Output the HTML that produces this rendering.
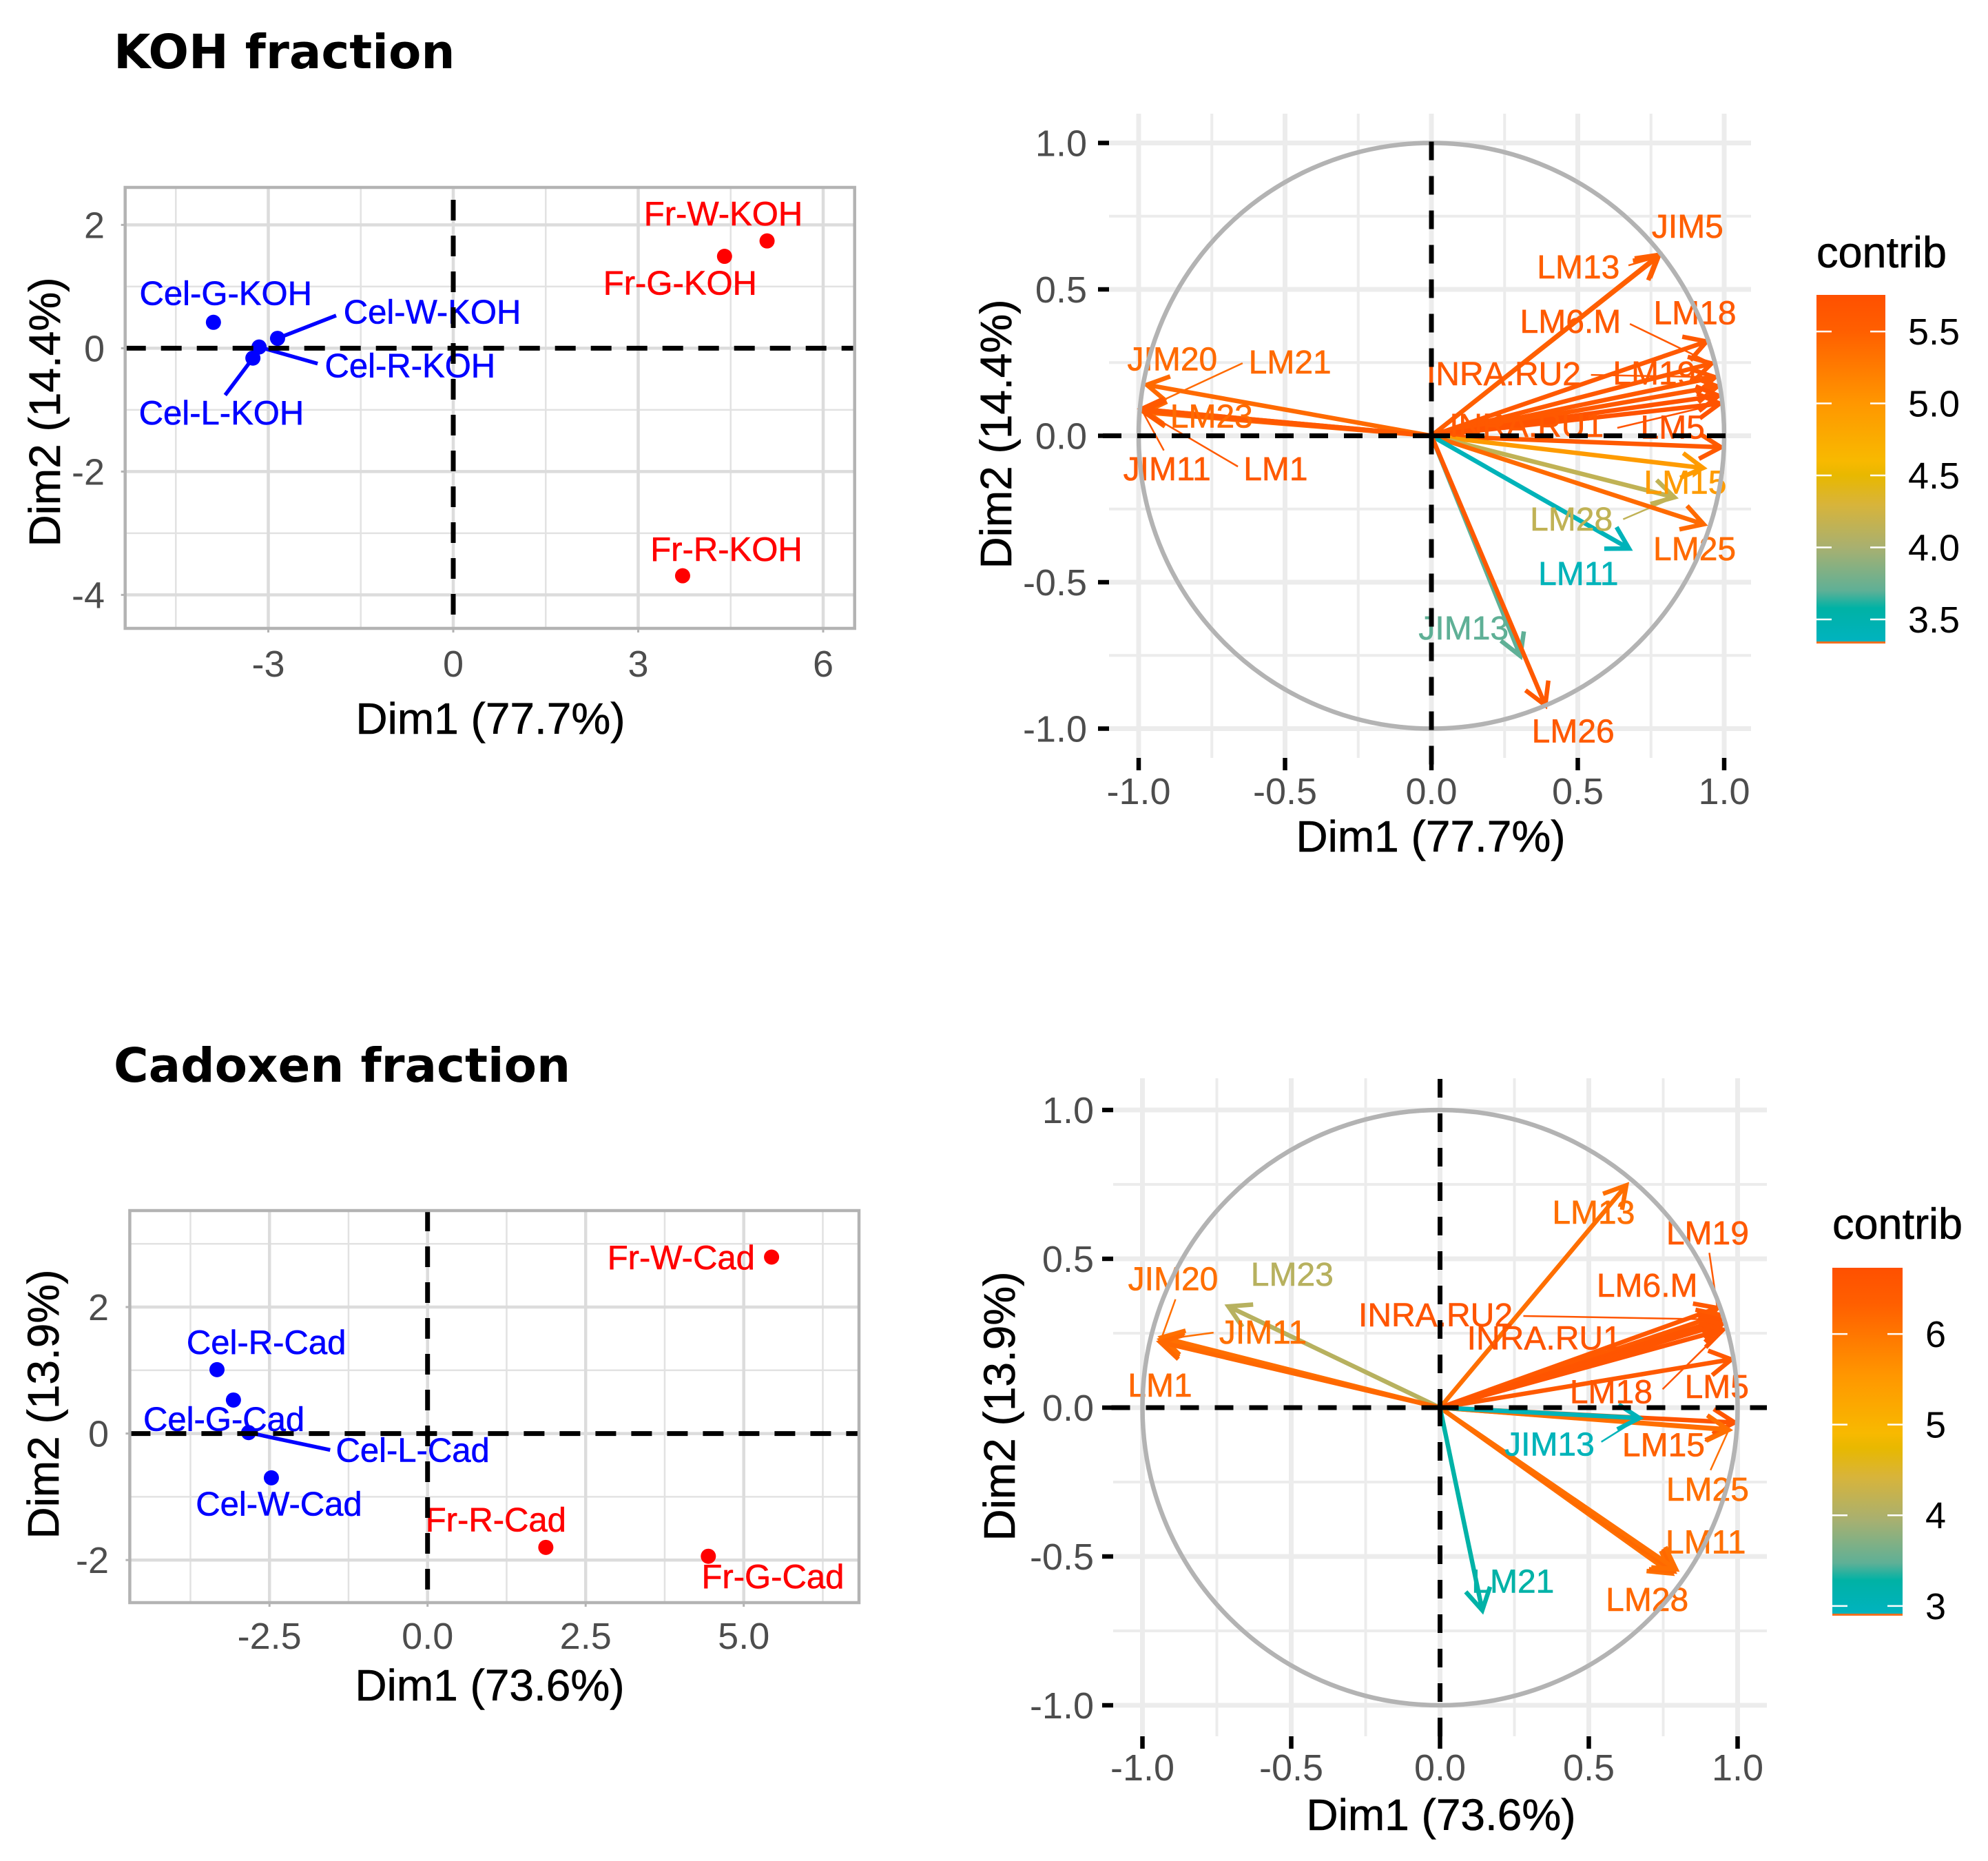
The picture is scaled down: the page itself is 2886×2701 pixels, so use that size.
<!DOCTYPE html>
<html>
<head>
<meta charset="utf-8">
<title>PCA of KOH and Cadoxen fractions</title>
<style>
html,body{margin:0;padding:0;background:#fff;}
svg{display:block;}
text{font-family:"Liberation Sans",sans-serif;}
.title{font-family:"DejaVu Sans","Liberation Sans",sans-serif;font-weight:bold;font-size:69px;fill:#000;}
</style>
</head>
<body>
<svg id="figure" xmlns="http://www.w3.org/2000/svg" width="2886" height="2701" viewBox="0 0 2886 2701">
<defs>
<linearGradient id="contrib-gradient" x1="0" y1="1" x2="0" y2="0">
<stop offset="0" stop-color="#00b3c0"/><stop offset="0.1" stop-color="#00b2a5"/><stop offset="0.15" stop-color="#5fb096"/><stop offset="0.274" stop-color="#a8b070"/><stop offset="0.398" stop-color="#d8b43a"/><stop offset="0.481" stop-color="#e8b800"/><stop offset="0.523" stop-color="#f8b900"/><stop offset="0.688" stop-color="#ff9700"/><stop offset="0.895" stop-color="#ff5f00"/><stop offset="1" stop-color="#ff5000"/>
</linearGradient>
</defs>
<text class="title" x="165" y="99">KOH fraction</text>
<text class="title" x="165" y="1570">Cadoxen fraction</text>
</svg>
<script>
// ---------- KOH individuals ----------
const kohIndNames = ['Fr-W-KOH','Fr-G-KOH','Fr-R-KOH','Cel-G-KOH','Cel-W-KOH','Cel-R-KOH','Cel-L-KOH'];
const kohIndX = [5.09,4.40,3.72,-3.89,-2.85,-3.15,-3.25];
const kohIndY = [1.74,1.49,-3.69,0.42,0.16,0.02,-0.16];
const kohIndLabelX = [4.38,3.68,4.43,-3.69,-0.34,-0.70,-3.76];
const kohIndLabelY = [2.16,1.04,-3.28,0.87,0.57,-0.30,-1.07];
const kohIndLeaderX = [null,null,null,null,-1.90,-2.20,-3.70];
const kohIndLeaderY = [null,null,null,null,0.53,-0.25,-0.76];
const kohIndColors = ['#ff0000','#ff0000','#ff0000','#0000ff','#0000ff','#0000ff','#0000ff'];
const kohIndXTicks = [-3,0,3,6];
const kohIndXMinor = [-4.5,-1.5,1.5,4.5];
const kohIndYTicks = [2,0,-2,-4];
const kohIndYMinor = [1,-1,-3];

// ---------- Cadoxen individuals ----------
const cadIndNames = ['Fr-W-Cad','Cel-R-Cad','Cel-G-Cad','Cel-L-Cad','Cel-W-Cad','Fr-R-Cad','Fr-G-Cad'];
const cadIndX = [5.44,-3.33,-3.07,-2.83,-2.47,1.87,4.44];
const cadIndY = [2.79,1.01,0.53,0.015,-0.70,-1.80,-1.94];
const cadIndLabelX = [4.01,-2.55,-3.22,-0.235,-2.35,1.08,5.46];
const cadIndLabelY = [2.76,1.42,0.21,-0.28,-1.13,-1.385,-2.28];
const cadIndLeaderX = [null,null,null,-1.54,null,null,null];
const cadIndLeaderY = [null,null,null,-0.26,null,null,null];
const cadIndColors = ['#ff0000','#0000ff','#0000ff','#0000ff','#0000ff','#ff0000','#ff0000'];
const cadIndXTicks = ['-2.5','0.0','2.5','5.0'];
const cadIndXMinor = [-3.75,-1.25,1.25,3.75,6.25];
const cadIndYTicks = [2,0,-2];
const cadIndYMinor = [3,1,-1];

// ---------- KOH variables ----------
const kohVarNames = ['JIM5','LM13','LM18','LM6.M','INRA.RU2','LM19','','LM5','INRA.RU1','LM15','LM28','LM25','LM11','JIM13','LM26','JIM20','LM21','LM23','JIM11','LM1'];
const kohVarX = [0.778,0.772,0.94,0.957,0.969,0.977,0.981,0.985,0.989,0.928,0.83,0.93,0.675,0.304,0.389,-0.972,-0.985,-0.98,-0.991,-0.985];
const kohVarY = [0.618,0.61,0.322,0.247,0.2,0.169,0.137,0.11,-0.039,-0.11,-0.21,-0.302,-0.385,-0.752,-0.92,0.174,0.09,0.08,0.091,0.085];
const kohVarContrib = [5.5,5.5,5.6,5.6,5.6,5.6,5.7,5.7,5.6,4.95,4.15,5.4,3.4,3.7,5.6,5.4,5.4,5.4,5.6,5.6];
const kohVarLabelX = [0.875,0.502,0.9,0.475,0.247,0.761,0,0.824,0.325,0.867,0.478,0.899,0.502,0.11,0.484,-0.885,-0.483,-0.751,-0.903,-0.532];
const kohVarLabelY = [0.709,0.571,0.414,0.385,0.206,0.208,0,0.024,0.03,-0.165,-0.29,-0.392,-0.477,-0.662,-1.014,0.257,0.246,0.061,-0.119,-0.119];
const kohVarLeaderX = [null,0.673,null,0.678,0.545,null,null,0.635,null,null,0.655,null,null,null,null,null,-0.645,null,-0.914,-0.661];
const kohVarLeaderY = [null,0.582,null,0.382,0.208,null,null,0.027,null,null,-0.285,null,null,null,null,null,0.248,null,-0.05,-0.105];
const kohVarTicks = ['-1.0','-0.5','0.0','0.5','1.0'];
const kohVarMinor = [-0.75,-0.25,0.25,0.75];
const kohLegendTicks = ['3.5','4.0','4.5','5.0','5.5'];

// ---------- Cadoxen variables ----------
const cadVarNames = ['LM13','LM19','LM6.M','INRA.RU2','INRA.RU1','LM18','LM5','','LM15','LM25','JIM13','LM11','LM28','','LM21','LM23','JIM20','JIM11','LM1'];
const cadVarX = [0.626,0.932,0.94,0.944,0.948,0.951,0.979,0.99,0.967,0.97,0.67,0.777,0.785,0.793,0.142,-0.711,-0.935,-0.938,-0.94];
const cadVarY = [0.747,0.335,0.312,0.296,0.281,0.262,0.162,-0.05,-0.073,-0.075,-0.035,-0.557,-0.55,-0.543,-0.681,0.34,0.236,0.228,0.22];
const cadVarContrib = [6.1,6.5,6.5,6.6,6.6,6.6,6.5,6.6,6.3,6.1,3.0,6.1,6.2,6.1,3.25,4.1,6.1,6.1,6.2];
const cadVarLabelX = [0.516,0.899,0.696,-0.015,0.35,0.575,0.93,0,0.751,0.899,0.368,0.893,0.696,0,0.245,-0.497,-0.897,-0.595,-0.941];
const cadVarLabelY = [0.65,0.581,0.405,0.306,0.228,0.048,0.065,0,-0.131,-0.28,-0.129,-0.457,-0.651,0,-0.589,0.442,0.427,0.248,0.069];
const cadVarLeaderX = [null,0.905,null,0.28,null,0.748,null,null,0.89,0.909,0.542,null,null,null,null,null,-0.889,-0.761,null];
const cadVarLeaderY = [null,0.52,null,0.308,null,0.062,null,null,-0.112,-0.21,-0.115,null,null,null,null,null,0.364,0.252,null];
const cadVarTicks = ['-1.0','-0.5','0.0','0.5','1.0'];
const cadVarMinor = [-0.75,-0.25,0.25,0.75];
const cadLegendTicks = ['3','4','5','6'];

const gradientT = [0,0.1,0.15,0.274,0.398,0.481,0.523,0.688,0.895,1];
const gradientRGB = [[0,179,192],[0,178,165],[95,176,150],[168,176,112],[216,180,58],[232,184,0],[248,185,0],[255,151,0],[255,95,0],[255,80,0]];

const NS = 'http://www.w3.org/2000/svg';
const svg = document.getElementById('figure');
const TICK_FONT = 54;

function make(tag, attrs, text) {
  const el = document.createElementNS(NS, tag);
  for (const k in attrs) el.setAttribute(k, attrs[k]);
  if (text !== undefined) el.textContent = text;
  svg.appendChild(el);
  return el;
}

function contribColor(v, lo, hi) {
  const t = Math.max(0, Math.min(1, (v - lo) / (hi - lo)));
  let i = 0;
  while (i < gradientT.length - 2 && t > gradientT[i + 1]) i++;
  const f = (t - gradientT[i]) / (gradientT[i + 1] - gradientT[i]);
  const c = gradientRGB[i].map((a, j) => Math.round(a + (gradientRGB[i + 1][j] - a) * f));
  return 'rgb(' + c.join(',') + ')';
}

function axisTitles(prefix, xText, xCx, xBase, yText, yBase, yCy) {
  const xt = make('text', {x: xCx, y: xBase, 'text-anchor': 'middle', 'font-size': 64, fill: '#000', stroke: '#000', 'stroke-width': 0.6}, xText);
  
  
  const yt = make('text', {x: 0, y: 0, 'text-anchor': 'middle', 'font-size': 64, fill: '#000', stroke: '#000', 'stroke-width': 0.6, transform: 'translate(' + yBase + ',' + yCy + ') rotate(-90)'}, yText);
  
  
}

function gridLine(prefix, x1, y1, x2, y2, color, width) {
  const g = make('line', {x1: x1, y1: y1, x2: x2, y2: y2, stroke: color, 'stroke-width': width});
  
  
}

function tickLabel(prefix, x, y, anchor, txt) {
  const t = make('text', {x: x, y: y, 'text-anchor': anchor, 'font-size': TICK_FONT, fill: '#4d4d4d'}, txt);
  
  
}

function drawInd(p, names, xs, ys, lxs, lys, leadX, leadY, colors, xTicks, xMinor, yTicks, yMinor) {
  const sx = v => p.cx + v * p.u;
  const sy = v => p.cy - v * p.u;
  xMinor.forEach(v => gridLine(p.name, sx(v), p.top, sx(v), p.bottom, '#e2e2e2', 2.5));
  yMinor.forEach(v => gridLine(p.name, p.left, sy(v), p.right, sy(v), '#e2e2e2', 2.5));
  xTicks.forEach(v => {
    gridLine(p.name, sx(+v), p.top, sx(+v), p.bottom, '#dcdcdc', 4.5);
    gridLine(p.name, sx(+v), p.bottom, sx(+v), p.bottom + 6, '#b3b3b3', 3);
    tickLabel(p.name, sx(+v), p.xLabelBase, 'middle', String(v));
  });
  yTicks.forEach(v => {
    gridLine(p.name, p.left, sy(v), p.right, sy(v), '#dcdcdc', 4.5);
    gridLine(p.name, p.left - 6, sy(v), p.left, sy(v), '#b3b3b3', 3);
    tickLabel(p.name, p.yLabelRight, sy(v) + 19, 'end', String(v));
  });
  names.forEach((n, i) => {
    if (leadX[i] !== null) {
      const l = make('line', {x1: sx(leadX[i]), y1: sy(leadY[i]), x2: sx(xs[i]), y2: sy(ys[i]), stroke: colors[i], 'stroke-width': 5.5});
      
      
    }
    const c = make('circle', {cx: sx(xs[i]), cy: sy(ys[i]), r: 11, fill: colors[i]});
    
    
    const t = make('text', {x: sx(lxs[i]), y: sy(lys[i]) + 15, 'text-anchor': 'middle', 'font-size': 49, fill: colors[i], stroke: colors[i], 'stroke-width': 0.6}, n);
    
    
  });
  const h = make('line', {x1: p.left, y1: sy(0), x2: p.right, y2: sy(0), stroke: '#000', 'stroke-width': 7, 'stroke-dasharray': '30 22'});
  
  
  const v0 = make('line', {x1: sx(0), y1: p.vTop, x2: sx(0), y2: p.bottom, stroke: '#000', 'stroke-width': 7, 'stroke-dasharray': '30 22'});
  
  
  const b = make('rect', {x: p.left, y: p.top, width: p.right - p.left, height: p.bottom - p.top, fill: 'none', stroke: '#b3b3b3', 'stroke-width': 4.5});
  
  
}

function drawVar(p, names, xs, ys, contrib, lxs, lys, leadX, leadY, ticks, minor, legendTicks) {
  const sx = v => p.cx + v * p.r;
  const sy = v => p.cy - v * p.r;
  const GRID = '#ececec';
  minor.forEach(v => {
    gridLine(p.name, sx(v), p.gTop, sx(v), p.gBottom, GRID, 4);
    gridLine(p.name, p.gLeft, sy(v), p.gRight, sy(v), GRID, 4);
  });
  ticks.forEach(v => {
    gridLine(p.name, sx(+v), p.gTop, sx(+v), p.gBottom, GRID, 7);
    gridLine(p.name, p.gLeft, sy(+v), p.gRight, sy(+v), GRID, 7);
    gridLine(p.name, sx(+v), p.gBottom, sx(+v), p.gBottom + 18, '#000', 6.5);
    gridLine(p.name, p.gLeft - 16, sy(+v), p.gLeft, sy(+v), '#000', 6.5);
    tickLabel(p.name, sx(+v), p.xLabelBase, 'middle', v);
    tickLabel(p.name, p.yLabelRight, sy(+v) + 19, 'end', v);
  });
  names.forEach((n, i) => {
    const col = contribColor(contrib[i], p.lo, p.hi);
    const tx = sx(xs[i]), ty = sy(ys[i]);
    const a = Math.atan2(ty - p.cy, tx - p.cx);
    const L = 36, sp = Math.PI / 6;
    const b1x = tx - L * Math.cos(a - sp), b1y = ty - L * Math.sin(a - sp);
    const b2x = tx - L * Math.cos(a + sp), b2y = ty - L * Math.sin(a + sp);
    const d = 'M' + p.cx + ',' + p.cy + 'L' + tx + ',' + ty + 'M' + b1x + ',' + b1y + 'L' + tx + ',' + ty + 'L' + b2x + ',' + b2y;
    const ar = make('path', {d: d, fill: 'none', stroke: col, 'stroke-width': 6.5, 'stroke-linejoin': 'miter'});
    
    
    if (leadX[i] !== null) {
      const l = make('line', {x1: sx(leadX[i]), y1: sy(leadY[i]), x2: tx, y2: ty, stroke: col, 'stroke-width': 2.5});
      
      
    }
  });
  names.forEach((n, i) => {
    if (!n) return;
    const col = contribColor(contrib[i], p.lo, p.hi);
    const t = make('text', {x: sx(lxs[i]), y: sy(lys[i]) + 14, 'text-anchor': 'middle', 'font-size': 48, fill: col, stroke: col, 'stroke-width': 0.6}, n);
    
    
  });
  const circ = make('circle', {cx: p.cx, cy: p.cy, r: p.r, fill: 'none', stroke: '#b3b3b3', 'stroke-width': 6.5});
  
  
  const h = make('line', {x1: p.cx, y1: p.cy, x2: p.hRight, y2: p.cy, stroke: '#000', 'stroke-width': 7, 'stroke-dasharray': '27 23'});
  
  
  const h2 = make('line', {x1: p.cx, y1: p.cy, x2: p.gLeft - 16, y2: p.cy, stroke: '#000', 'stroke-width': 7, 'stroke-dasharray': '27 23'});
  
  
  const v0 = make('line', {x1: p.cx, y1: p.cy, x2: p.cx, y2: p.vTop, stroke: '#000', 'stroke-width': 7, 'stroke-dasharray': '27 23'});
  
  
  const v1 = make('line', {x1: p.cx, y1: p.cy, x2: p.cx, y2: p.gBottom + 18, stroke: '#000', 'stroke-width': 7, 'stroke-dasharray': '27 23'});
  
  

  // legend
  const lt = make('text', {x: p.barLeft, y: p.legendTitleBase, 'font-size': 63, fill: '#000', stroke: '#000', 'stroke-width': 0.6}, 'contrib');
  
  
  const bar = make('rect', {x: p.barLeft, y: p.barTop, width: p.barW, height: p.barBottom - p.barTop, fill: 'url(#contrib-gradient)'});
  
  
  const edge = make('rect', {x: p.barLeft, y: p.barBottom - 2, width: p.barW, height: 3, fill: '#f07020'});
  
  
  legendTicks.forEach(v => {
    const y = p.barBottom - (+v - p.lo) / (p.hi - p.lo) * (p.barBottom - p.barTop);
    const t1 = make('line', {x1: p.barLeft, y1: y, x2: p.barLeft + 22, y2: y, stroke: '#fff', 'stroke-width': 2.5});
    
    
    const t2 = make('line', {x1: p.barLeft + p.barW - 22, y1: y, x2: p.barLeft + p.barW, y2: y, stroke: '#fff', 'stroke-width': 2.5});
    
    
    const tl = make('text', {x: p.barLeft + p.barW + 33, y: y + 19, 'font-size': TICK_FONT, fill: '#000'}, v);
    
    
  });
}

// ---------- layout ----------
drawInd({name:'koh-individuals',cx:658,cy:505.4,u:89.5,left:181.7,right:1240.7,top:272,bottom:912,vTop:290,xLabelBase:982,yLabelRight:152},
  kohIndNames,kohIndX,kohIndY,kohIndLabelX,kohIndLabelY,kohIndLeaderX,kohIndLeaderY,kohIndColors,kohIndXTicks,kohIndXMinor,kohIndYTicks,kohIndYMinor);
axisTitles('koh-individuals','Dim1 (77.7%)',712,1065,'Dim2 (14.4%)',87,598);

drawInd({name:'cadoxen-individuals',cx:620.7,cy:2080.6,u:91.8,left:188.4,right:1247,top:1757,bottom:2326,vTop:1757,xLabelBase:2393,yLabelRight:158},
  cadIndNames,cadIndX,cadIndY,cadIndLabelX,cadIndLabelY,cadIndLeaderX,cadIndLeaderY,cadIndColors,cadIndXTicks,cadIndXMinor,cadIndYTicks,cadIndYMinor);
axisTitles('cadoxen-individuals','Dim1 (73.6%)',711,2468,'Dim2 (13.9%)',85,2038);

drawVar({name:'koh-variables',cx:2078,cy:632.5,r:425,gLeft:1610,gRight:2542,gTop:165,gBottom:1100,hRight:2527,vTop:186,xLabelBase:1167,yLabelRight:1578,lo:3.337,hi:5.754,barLeft:2637,barW:100,barTop:428,barBottom:933,legendTitleBase:388},
  kohVarNames,kohVarX,kohVarY,kohVarContrib,kohVarLabelX,kohVarLabelY,kohVarLeaderX,kohVarLeaderY,kohVarTicks,kohVarMinor,kohLegendTicks);
axisTitles('koh-variables','Dim1 (77.7%)',2077,1236,'Dim2 (14.4%)',1468,630);

drawVar({name:'cadoxen-variables',cx:2090.5,cy:2043,r:432,gLeft:1616,gRight:2565,gTop:1565,gBottom:2520,hRight:2565,vTop:1565,xLabelBase:2584,yLabelRight:1588,lo:2.9,hi:6.73,barLeft:2660,barW:102,barTop:1840,barBottom:2344,legendTitleBase:1798},
  cadVarNames,cadVarX,cadVarY,cadVarContrib,cadVarLabelX,cadVarLabelY,cadVarLeaderX,cadVarLeaderY,cadVarTicks,cadVarMinor,cadLegendTicks);
axisTitles('cadoxen-variables','Dim1 (73.6%)',2092,2656,'Dim2 (13.9%)',1473,2041);
</script>
</body>
</html>
